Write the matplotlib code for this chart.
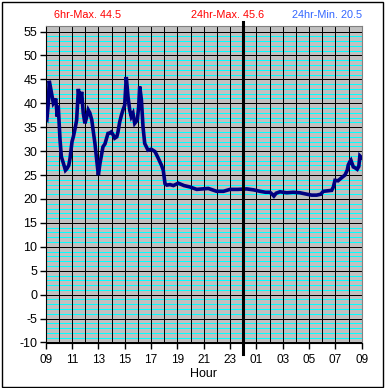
import matplotlib
matplotlib.use("Agg")
import matplotlib.pyplot as plt
from matplotlib.patches import Rectangle

plt.rcParams['font.family'] = ['Liberation Sans', 'DejaVu Sans']

# hours since 00:00 of first day (09 -> 33 = 09 next day)
hours = [9.0, 9.1, 9.2, 9.27, 9.35, 9.45, 9.58, 9.7, 9.76, 9.88, 9.95, 10.09, 10.19,
         10.34, 10.5, 10.6, 10.75, 10.85, 11.0, 11.1, 11.25, 11.35, 11.48, 11.6, 11.73,
         11.85, 11.98, 12.1, 12.23, 12.35, 12.5, 12.62, 12.74, 12.88, 13.0, 13.12, 13.35,
         13.5, 13.73, 13.88, 13.98, 14.1, 14.24, 14.4, 14.49, 14.62, 14.75, 14.87, 15.0,
         15.12, 15.25, 15.38, 15.5, 15.63, 15.76, 15.96, 16.06, 16.14, 16.27, 16.39, 16.52,
         16.77, 17.02, 17.3, 17.55, 17.8, 17.93, 18.06, 18.2, 18.44, 18.7, 19.07, 19.5,
         19.96, 20.47, 20.9, 21.35, 21.98, 22.5, 23.0, 23.6, 24.26, 24.8, 25.27, 25.7,
         26.03, 26.2, 26.33, 26.5, 26.79, 27.3, 27.8, 28.3, 28.82, 29.2, 29.58, 29.9,
         30.08, 30.4, 30.72, 30.85, 30.97, 31.2, 31.5, 31.73, 31.9, 31.98, 32.1, 32.18,
         32.36, 32.5, 32.66, 32.78, 32.86, 33.0]
temps = [37.5, 37.0, 40.0, 44.7, 43.5, 42.0, 40.0, 40.5, 41.0, 37.2, 39.5, 32.3, 28.8,
         27.5, 26.0, 26.3, 27.0, 28.5, 32.0, 33.0, 35.0, 36.5, 43.0, 40.0, 42.4,
         38.0, 35.8, 37.0, 38.6, 38.0, 36.5, 34.0, 31.6, 28.0, 25.0, 27.4, 30.9,
         31.5, 33.7, 33.8, 34.0, 33.5, 32.7, 33.0, 34.0, 36.1, 37.5, 38.6, 39.6,
         45.5, 41.4, 38.6, 37.2, 37.9, 35.8, 36.5, 39.3, 43.5, 40.7, 35.1, 31.6,
         30.2, 30.4, 29.9, 28.5, 27.0, 26.0, 23.2, 22.9, 23.0, 22.8, 23.3, 22.8,
         22.5, 22.0, 22.1, 22.2, 21.6, 21.6, 22.0, 22.0, 22.1, 21.9, 21.6, 21.4,
         21.4, 21.0, 20.6, 21.2, 21.5, 21.3, 21.4, 21.3, 21.0, 20.8, 20.8, 21.0,
         21.6, 21.7, 21.8, 22.5, 23.9, 23.8, 24.5, 25.0, 26.0, 27.1, 27.8, 28.1,
         26.7, 26.5, 26.2, 26.8, 29.0, 28.6]

xtick_pos = [9, 11, 13, 15, 17, 19, 21, 23, 25, 27, 29, 31, 33]
xtick_labels = ["09", "11", "13", "15", "17", "19", "21", "23", "01", "03", "05", "07", "09"]
ytick_pos = list(range(-10, 56, 5))

stat_texts = ["6hr-Max. 44.5", "24hr-Max. 45.6", "24hr-Min. 20.5"]

W, H = 385, 388
fig = plt.figure(figsize=(W / 100, H / 100), dpi=100)
ax = fig.add_axes([45.7 / W, 1 - 342.5 / H, (361.7 - 45.7) / W, (342.5 - 26) / H])
ax.set_facecolor('#c0c0c0')
ax.set_xlim(9, 33)
ax.set_ylim(-10, 56.15)

# minor cyan lines at every integer, black major every 5
for v in range(-9, 56):
    if v % 5 != 0:
        ax.axhline(v, color='#00ffff', lw=0.6, zorder=1, antialiased=False)
for v in ytick_pos:
    ax.axhline(v, color='black', lw=0.6, zorder=1.5, antialiased=False)
for h in range(10, 33):
    ax.axvline(h, color='black', lw=0.6, zorder=1.5, antialiased=False)

ax.plot(hours, temps, color='#000080', lw=2.6, zorder=3, solid_joinstyle='miter')

# midnight marker
ax.plot([24, 24], [-12.4, 57.0], color='black', lw=2.2, clip_on=False, zorder=4)

ax.set_xticks(xtick_pos)
ax.set_xticklabels(xtick_labels, fontsize=8.5)
ax.set_yticks(ytick_pos)
ax.set_yticklabels([str(v) for v in ytick_pos], fontsize=9)
ax.tick_params(axis='both', direction='out', length=4, width=1, color='black', pad=2)
ax.tick_params(axis='x', pad=4)
ax.set_xlabel("Hour", fontsize=9, labelpad=2)

for s in ['top', 'right']:
    ax.spines[s].set_color('#808080')
for s in ['left', 'bottom']:
    ax.spines[s].set_color('black')

fig.text(88 / W, 1 - 15 / H, stat_texts[0], color='#ff0000', fontsize=7.8, ha='center', va='center')
fig.text(228 / W, 1 - 15 / H, stat_texts[1], color='#ff0000', fontsize=7.8, ha='center', va='center')
fig.text(362 / W, 1 - 15 / H, stat_texts[2], color='#3366ff', fontsize=7.8, ha='right', va='center')

fig.patches.append(Rectangle((1.5 / W, 1.5 / H), (383 - 1.5) / W, (386 - 1.5) / H,
                             transform=fig.transFigure, fill=False, edgecolor='black', lw=1))

fig.savefig('out.png', dpi=100)
